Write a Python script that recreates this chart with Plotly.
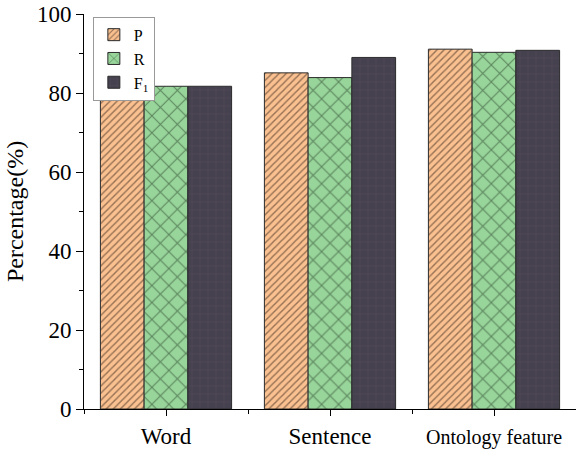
import plotly.graph_objects as go

# Recognition performance for each feature granularity
categories = ["Word", "Sentence", "Ontology feature"]
p_values = [81.7, 85.1, 91.1]
r_values = [81.7, 83.9, 90.3]
f1_values = [81.7, 89.0, 90.8]
y_ticks = [0, 20, 40, 60, 80, 100]

x_pos = list(range(len(categories)))
font_family = "Liberation Serif, Times New Roman, serif"

series = [
    ("P", p_values, "#FAC08F", "#2e2018", "/", 5, 0.28),
    ("R", r_values, "#98D59A", "#1a2e1c", "x", 12, 0.16),
    ("F<sub>1</sub>", f1_values, "#46414F", "#5f5969", "+", 8, 0.1),
]

fig = go.Figure()
for name, vals, bg, fg, shape, size, sol in series:
    fig.add_trace(go.Bar(
        x=x_pos, y=vals, name=name,
        marker=dict(
            color=bg,
            line=dict(color="#2b2b2b", width=1),
            pattern=dict(shape=shape, fgcolor=fg, bgcolor=bg,
                         size=size, solidity=sol, fillmode="overlay"),
        ),
    ))

# Smaller type for the long category name
tick_text = [
    "Word",
    "Sentence",
    '<span style="font-size:20px">Ontology feature</span>',
]

fig.update_layout(
    width=576, height=449,
    margin=dict(l=84, r=0, t=14, b=38),
    paper_bgcolor="white", plot_bgcolor="white",
    barmode="group", bargap=0.2, bargroupgap=0,
    font=dict(family=font_family, color="black"),
    showlegend=True,
    legend=dict(
        x=0.018, y=0.993, xanchor="left", yanchor="top",
        bgcolor="white", bordercolor="#999999", borderwidth=1,
        font=dict(size=16, family=font_family),
        itemwidth=30, tracegroupgap=0,
    ),
    xaxis=dict(
        range=[-0.5, 2.5],
        tickvals=x_pos, ticktext=tick_text,
        ticks="outside", ticklen=6, tickwidth=1, tickcolor="black",
        minor=dict(tickvals=[-0.5, 0.5, 1.5, 2.5], ticks="outside",
                   ticklen=4, tickcolor="black"),
        showline=True, linecolor="black", linewidth=1,
        showgrid=False, zeroline=False,
        tickfont=dict(size=23, family=font_family),
    ),
    yaxis=dict(
        range=[0, 100],
        tickvals=y_ticks,
        ticks="outside", ticklen=7, tickwidth=1, tickcolor="black",
        minor=dict(dtick=10, ticks="outside", ticklen=4, tickcolor="black"),
        showline=True, linecolor="black", linewidth=1,
        showgrid=False, zeroline=False,
        tickfont=dict(size=23, family=font_family),
        title=dict(text="Percentage(%)", font=dict(size=24, family=font_family),
                   standoff=6),
    ),
)

fig.write_html("out.html")
